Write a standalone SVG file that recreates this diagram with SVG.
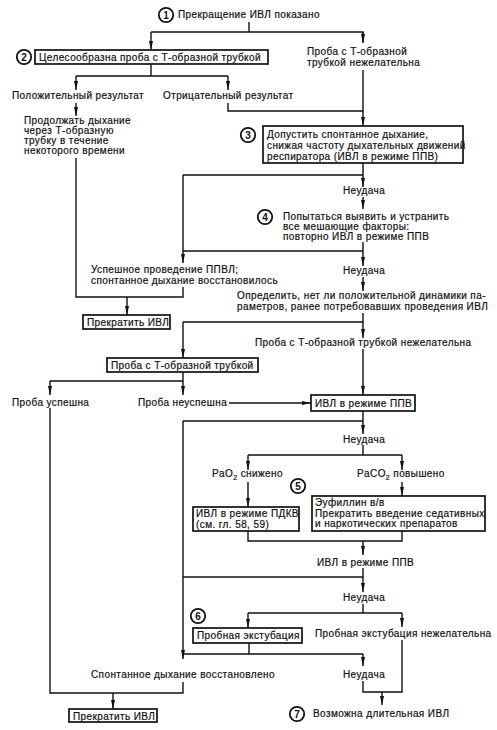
<svg xmlns="http://www.w3.org/2000/svg" width="497" height="730" viewBox="0 0 497 730">
<style>
text{font-family:"Liberation Sans",Arial,sans-serif;font-size:10px;fill:#111;stroke:#111;stroke-width:0.2;letter-spacing:0.4px}
.n{font-size:10px;font-weight:bold;text-anchor:middle;letter-spacing:0;stroke:none}
.c{fill:#fff;stroke:#111;stroke-width:1.8}
.b{fill:#fff;stroke:#111;stroke-width:1.7}
.l{fill:none;stroke:#111;stroke-width:1.4}
.a{fill:none;stroke:#111;stroke-width:1.4;marker-end:url(#ar)}
</style>
<defs>
<marker id="ar" viewBox="0 0 9 4" refX="9" refY="2" markerWidth="9" markerHeight="4" orient="auto" markerUnits="userSpaceOnUse">
<path d="M0,0 L9,2 L0,4 z" fill="#111"/>
</marker>
</defs>
<rect width="497" height="730" fill="#fff"/>
<g id="connectors">
<path class="l" d="M249,22 V32 M151,32 H363 V42"/>
<path class="a" d="M151,32 V50"/>
<path class="a" d="M363,32 V43"/>
<path class="a" d="M363,70 V126"/>
<path class="l" d="M151,64 V76 M76,76 H228"/>
<path class="a" d="M76,76 V90"/>
<path class="a" d="M228,76 V90"/>
<path class="l" d="M228,103 V111 H363"/>
<path class="a" d="M76,103 V116"/>
<path class="l" d="M76,158 V297 H183 V287"/>
<path class="a" d="M127,297 V315"/>
<path class="l" d="M363,163 V175 M183,175 H363 M183,251 H363"/>
<path class="a" d="M183,175 V263"/>
<path class="a" d="M363,175 V187"/>
<path class="a" d="M363,197 V209"/>
<path class="a" d="M363,242 V266"/>
<path class="a" d="M363,277 V291"/>
<path class="l" d="M363,313 V322 M183,322 H363"/>
<path class="a" d="M363,322 V338"/>
<path class="a" d="M183,322 V358"/>
<path class="l" d="M183,372 V381 M50,381 H183"/>
<path class="a" d="M50,381 V395"/>
<path class="a" d="M183,381 V395"/>
<path class="a" d="M229,403 H311"/>
<path class="a" d="M363,349 V395"/>
<path class="l" d="M50,408 V693 H183 V682"/>
<path class="a" d="M113,693 V709"/>
<path class="l" d="M363,411 V421 M183,421 H363"/>
<path class="a" d="M183,421 V659"/>
<path class="a" d="M363,421 V434"/>
<path class="l" d="M363,445 V455 M248,455 H402"/>
<path class="a" d="M248,455 V470"/>
<path class="a" d="M402,455 V470"/>
<path class="a" d="M248,482 V507"/>
<path class="a" d="M402,482 V496"/>
<path class="l" d="M248,531 V541 H402 V531"/>
<path class="a" d="M363,541 V555"/>
<path class="l" d="M183,577 H363"/>
<path class="a" d="M363,568 V592"/>
<path class="l" d="M363,604 V613 M248,613 H402"/>
<path class="a" d="M248,613 V628"/>
<path class="a" d="M402,613 V627"/>
<path class="l" d="M249,643 V654 M183,654 H363 M402,640 V692 H363 V681"/>
<path class="a" d="M363,654 V666"/>
<path class="a" d="M382,692 V705"/>
</g>
<g id="n1">
<circle class="c" cx="166" cy="15" r="7.2"/><text class="n" x="166" y="18.6">1</text>
<text x="178" y="18">Прекращение ИВЛ показано</text>
</g>
<g id="n2">
<circle class="c" cx="24" cy="57" r="7.2"/><text class="n" x="24" y="60.6">2</text>
<rect class="b" x="35" y="50" width="233" height="14"/>
<text x="39" y="61">Целесообразна проба с Т-образной трубкой</text>
</g>
<g id="n2b">
<text x="307" y="55">Проба с Т-образной</text>
<text x="307" y="66">трубкой нежелательна</text>
</g>
<g id="pos"><text x="12" y="99">Положительный результат</text></g>
<g id="neg"><text x="163" y="99">Отрицательный результат</text></g>
<g id="cont">
<text x="24" y="124">Продолжать дыхание</text>
<text x="24" y="134">через Т-образную</text>
<text x="24" y="144">трубку в течение</text>
<text x="24" y="154">некоторого времени</text>
</g>
<g id="n3">
<circle class="c" cx="248" cy="135" r="7.2"/><text class="n" x="248" y="138.6">3</text>
<rect class="b" x="263" y="126" width="200" height="37"/>
<text x="267" y="138">Допустить спонтанное дыхание,</text>
<text x="267" y="149">снижая частоту дыхательных движений</text>
<text x="267" y="160">респиратора (ИВЛ в режиме ППВ)</text>
</g>
<g id="fail1"><text x="343" y="194">Неудача</text></g>
<g id="n4">
<circle class="c" cx="265" cy="217" r="7.2"/><text class="n" x="265" y="220.6">4</text>
<text x="283" y="220">Попытаться выявить и устранить</text>
<text x="283" y="230">все мешающие факторы:</text>
<text x="283" y="240">повторно ИВЛ в режиме ППВ</text>
</g>
<g id="succ1">
<text x="91" y="273">Успешное проведение ППВЛ;</text>
<text x="91" y="284">спонтанное дыхание восстановилось</text>
</g>
<g id="fail2"><text x="343" y="274">Неудача</text></g>
<g id="det">
<text x="237" y="299">Определить, нет ли положительной динамики па-</text>
<text x="237" y="310">раметров, ранее потребовавших проведения ИВЛ</text>
</g>
<g id="stop1">
<rect class="b" x="83" y="315" width="87" height="14"/>
<text x="87" y="326">Прекратить ИВЛ</text>
</g>
<g id="tno"><text x="255" y="346">Проба с Т-образной трубкой нежелательна</text></g>
<g id="ttube">
<rect class="b" x="107" y="358" width="151" height="14"/>
<text x="111" y="369">Проба с Т-образной трубкой</text>
</g>
<g id="ok"><text x="12" y="406">Проба успешна</text></g>
<g id="nok"><text x="138" y="406">Проба неуспешна</text></g>
<g id="ppv1">
<rect class="b" x="311" y="395" width="104" height="16"/>
<text x="315" y="407">ИВЛ в режиме ППВ</text>
</g>
<g id="fail3"><text x="343" y="443">Неудача</text></g>
<g id="pao2"><text x="212" y="477">PaO<tspan font-size="7" dy="2.5">2</tspan><tspan dy="-2.5"> снижено</tspan></text></g>
<g id="paco2"><text x="357" y="477">PaCO<tspan font-size="7" dy="2.5">2</tspan><tspan dy="-2.5"> повышено</tspan></text></g>
<g id="peep">
<rect class="b" x="193" y="507" width="106" height="24"/>
<text x="196" y="517">ИВЛ в режиме ПДКВ</text>
<text x="196" y="528">(см. гл. 58, 59)</text>
</g>
<g id="n5">
<circle class="c" cx="298" cy="486" r="7.2"/><text class="n" x="298" y="489.6">5</text>
<rect class="b" x="312" y="496" width="173" height="35"/>
<text x="315" y="506">Эуфиллин в/в</text>
<text x="315" y="517">Прекратить введение седативных</text>
<text x="315" y="527">и наркотических  препаратов</text>
</g>
<g id="ppv2"><text x="317" y="566">ИВЛ в режиме ППВ</text></g>
<g id="fail4"><text x="343" y="601">Неудача</text></g>
<g id="n6">
<circle class="c" cx="198" cy="616" r="7.2"/><text class="n" x="198" y="619.6">6</text>
<rect class="b" x="193" y="628" width="109" height="15"/>
<text x="197" y="639">Пробная экстубация</text>
</g>
<g id="extno"><text x="315" y="637">Пробная экстубация нежелательна</text></g>
<g id="spont"><text x="91" y="678">Спонтанное дыхание восстановлено</text></g>
<g id="fail5"><text x="343" y="678">Неудача</text></g>
<g id="stop2">
<rect class="b" x="69" y="709" width="88" height="13"/>
<text x="73" y="719.5">Прекратить ИВЛ</text>
</g>
<g id="n7">
<circle class="c" cx="297" cy="714" r="7.2"/><text class="n" x="297" y="717.6">7</text>
<text x="313" y="717">Возможна длительная ИВЛ</text>
</g>
</svg>
